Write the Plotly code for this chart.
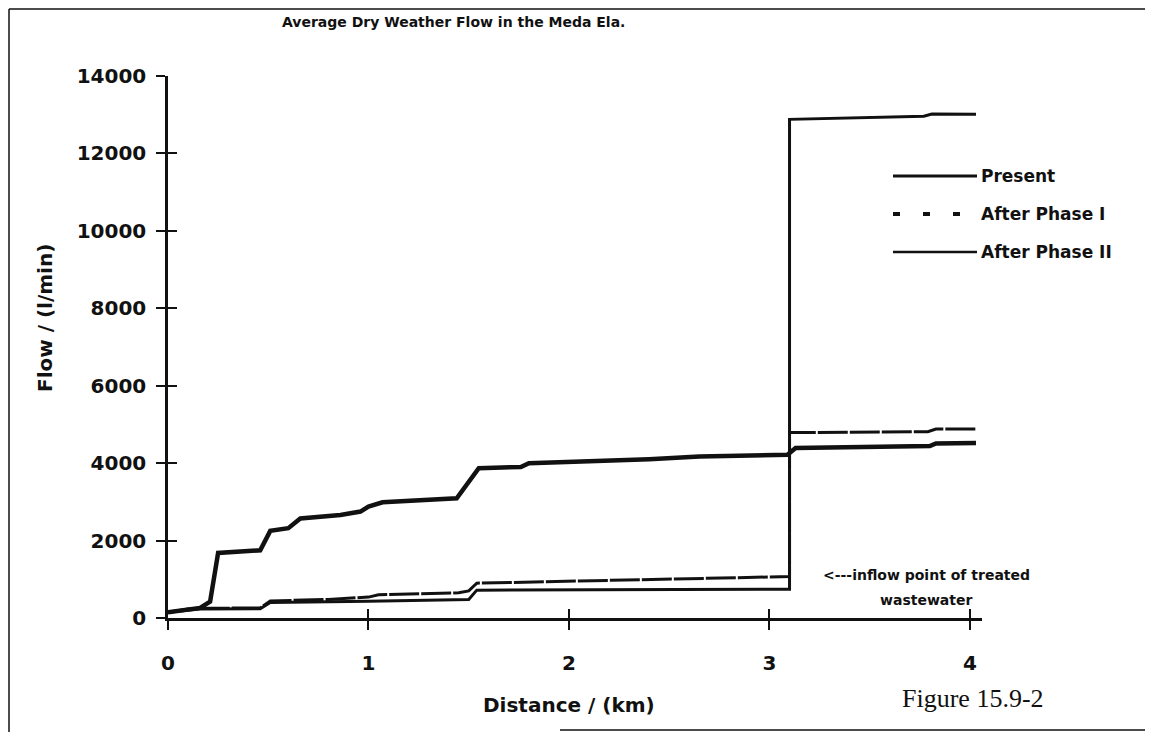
import plotly.graph_objects as go

# ---------------- data ----------------
x_present = [0.00, 0.10, 0.16, 0.21, 0.25, 0.46, 0.51, 0.60, 0.66, 0.86, 0.96, 1.00, 1.07,
             1.44, 1.55, 1.76, 1.80, 2.40, 2.65, 3.09, 3.13, 3.80, 3.83, 4.03]
y_present = [150, 220, 260, 420, 1680, 1750, 2250, 2320, 2570, 2660, 2750, 2880, 2990,
             3090, 3870, 3900, 4000, 4100, 4170, 4215, 4390, 4440, 4510, 4520]

x_phase1 = [0.00, 0.10, 0.16, 0.46, 0.51, 0.80, 1.00, 1.05, 1.45, 1.50, 1.54, 3.09, 3.10,
            3.10, 3.79, 3.83, 4.03]
y_phase1 = [150, 230, 250, 260, 440, 480, 540, 600, 650, 700, 900, 1070, 1070,
            4790, 4810, 4880, 4880]

x_phase2 = [0.00, 0.10, 0.16, 0.46, 0.51, 1.00, 1.45, 1.50, 1.54, 3.09, 3.10, 3.10,
            3.77, 3.81, 4.03]
y_phase2 = [150, 210, 230, 240, 400, 430, 460, 480, 720, 745, 745, 12880,
            12960, 13020, 13010]

series_names = ["Present", "After Phase I", "After Phase II"]

x_ticks = [0, 1, 2, 3, 4]
y_ticks = [0, 2000, 4000, 6000, 8000, 10000, 12000, 14000]

title_text = "Average Dry Weather Flow in the Meda Ela."
x_title = "Distance / (km)"
y_title = "Flow / (l/min)"
note_line1 = "<---inflow point of treated"
note_line2 = "wastewater"
figure_label = "Figure 15.9-2"

# ---------------- styling ----------------
FONT = "DejaVu Sans"
BLACK = "#111111"
X_RANGE = [0, 4.06]
Y_RANGE = [0, 14000]

def bold(size):
    return dict(family=FONT, size=size, color=BLACK, weight="bold")

fig = go.Figure()
fig.add_trace(go.Scatter(x=x_present, y=y_present, mode="lines", name=series_names[0],
                         line=dict(color=BLACK, width=4.5), showlegend=False))
fig.add_trace(go.Scatter(x=x_phase1, y=y_phase1, mode="lines", name=series_names[1],
                         line=dict(color=BLACK, width=3, dash="30px,2px"), showlegend=False))
fig.add_trace(go.Scatter(x=x_phase2, y=y_phase2, mode="lines", name=series_names[2],
                         line=dict(color=BLACK, width=3), showlegend=False))
# empty trace so that the overlay axes (inner half of the cross ticks) are drawn
fig.add_trace(go.Scatter(x=[], y=[], xaxis="x2", yaxis="y2", mode="lines",
                         showlegend=False, hoverinfo="skip"))

fig.update_layout(
    width=1137, height=724,
    margin=dict(l=160, r=163, t=68, b=114, pad=0),
    paper_bgcolor="white", plot_bgcolor="white",
    showlegend=False,
    xaxis=dict(range=X_RANGE, tickvals=x_ticks, ticktext=[str(v) for v in x_ticks],
               showgrid=False, zeroline=False, showline=True, linecolor=BLACK, linewidth=2.5,
               ticks="outside", ticklen=9, tickwidth=2, tickcolor=BLACK,
               tickfont=bold(20), ticklabelstandoff=16),
    yaxis=dict(range=Y_RANGE, tickvals=y_ticks, ticktext=[str(v) for v in y_ticks],
               showgrid=False, zeroline=False, showline=True, linecolor=BLACK, linewidth=2.5,
               ticks="outside", ticklen=9, tickwidth=2, tickcolor=BLACK,
               tickfont=bold(20), ticklabelstandoff=6),
    xaxis2=dict(range=X_RANGE, tickvals=x_ticks, overlaying="x", anchor="y", side="bottom",
                showgrid=False, zeroline=False, showline=False, showticklabels=False,
                ticks="inside", ticklen=9, tickwidth=2, tickcolor=BLACK),
    yaxis2=dict(range=Y_RANGE, tickvals=y_ticks, overlaying="y", anchor="x", side="left",
                showgrid=False, zeroline=False, showline=False, showticklabels=False,
                ticks="inside", ticklen=9, tickwidth=2, tickcolor=BLACK),
)

# paper-coordinate helpers (page pixels; plot area 168..982 px wide, 76..618 px tall)
def px(x):
    return (x - 168) / 814.0

def py(y):
    return (618 - y) / 542.0

annotations = [
    dict(text=title_text, x=px(453), y=py(22), xref="paper", yref="paper",
         showarrow=False, xanchor="center", yanchor="middle", font=bold(14)),
    dict(text=x_title, x=px(569), y=py(705), xref="paper", yref="paper",
         showarrow=False, xanchor="center", yanchor="middle", font=bold(20)),
    dict(text=y_title, x=px(45), y=py(318), xref="paper", yref="paper", textangle=-90,
         showarrow=False, xanchor="center", yanchor="middle", font=bold(20)),
    dict(text=note_line1, x=px(926), y=py(575), xref="paper", yref="paper",
         showarrow=False, xanchor="center", yanchor="middle", font=bold(14)),
    dict(text=note_line2, x=px(926), y=py(600), xref="paper", yref="paper",
         showarrow=False, xanchor="center", yanchor="middle", font=bold(14)),
    dict(text=figure_label, x=px(900), y=py(698), xref="paper", yref="paper",
         showarrow=False, xanchor="left", yanchor="middle",
         font=dict(family="Liberation Serif", size=26, color=BLACK)),
]

shapes = []
legend_rows = [176, 214, 252]
legend_dash = ["solid", "7px,23px", "solid"]
legend_width = [3, 4, 2.5]
for name, row, dash, w in zip(series_names, legend_rows, legend_dash, legend_width):
    shapes.append(dict(type="line", xref="paper", yref="paper",
                       x0=px(893), x1=px(977), y0=py(row), y1=py(row),
                       line=dict(color=BLACK, width=w, dash=dash)))
    annotations.append(dict(text=name, x=px(979), y=py(row), xref="paper", yref="paper",
                            showarrow=False, xanchor="left", yanchor="middle",
                            font=bold(17)))

# scanned page border
border = dict(color=BLACK, width=1.5)
shapes.append(dict(type="line", xref="paper", yref="paper", x0=px(9), x1=px(1145),
                   y0=py(9), y1=py(9), line=border))
shapes.append(dict(type="line", xref="paper", yref="paper", x0=px(9), x1=px(9),
                   y0=py(9), y1=py(732), line=border))
shapes.append(dict(type="line", xref="paper", yref="paper", x0=px(560), x1=px(1145),
                   y0=py(730), y1=py(730), line=border))

fig.update_layout(annotations=annotations, shapes=shapes)

fig.write_html("out.html")
